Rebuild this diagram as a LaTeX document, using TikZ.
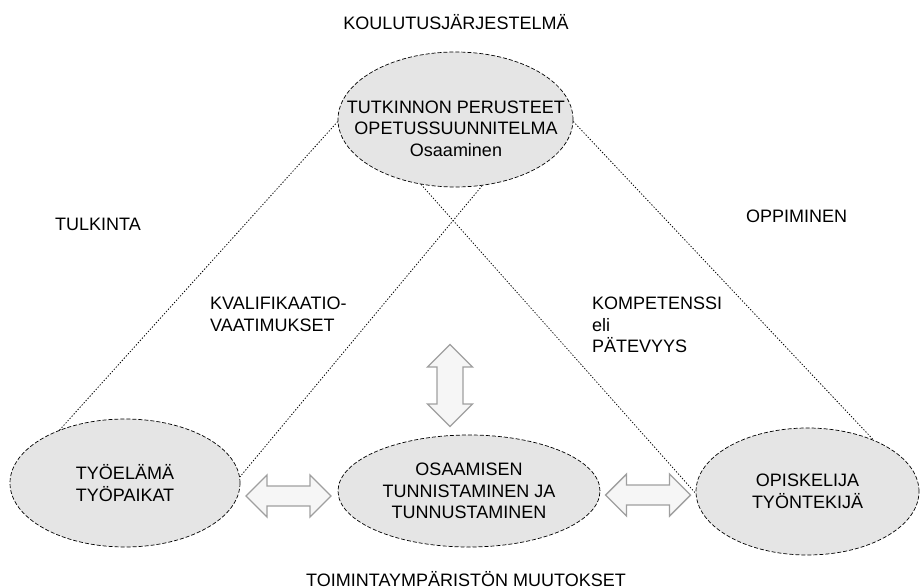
\documentclass[tikz,border=0pt]{standalone}
\usepackage{fontspec}
\setmainfont{Liberation Sans}
\usetikzlibrary{shapes.geometric,shapes.arrows}

\begin{document}
\begin{tikzpicture}[x=1pt,y=-1pt,font=\fontsize{18}{21.5}\selectfont,
    oval/.style={ellipse,draw,fill=gray!20,line width=.7pt,dash pattern=on 4pt off 2pt,inner sep=0},
    lbl/.style={inner sep=0},
    link/.style={line width=.8pt,dash pattern=on 1.3pt off 1.7pt},
    twoway/.style={double arrow,draw=gray!75,fill=gray!7,line width=1.4pt,
      inner xsep=0,inner ysep=9.3,double arrow head extend=11}]
  \useasboundingbox (0,0) rectangle (921,588);
  \node[oval,minimum width=235,minimum height=135] (ops) at (455.5,119.5) {};
  \node[lbl,align=center] (opsText) at (456,128.5)
    {TUTKINNON PERUSTEET\\OPETUSSUUNNITELMA\\Osaaminen};
  \node[oval,minimum width=230,minimum height=128,align=center] (tyo) at (125,483)
    {TYÖELÄMÄ\\TYÖPAIKAT};
  \node[oval,minimum width=262,minimum height=112,align=center] (osa) at (469,491)
    {OSAAMISEN\\TUNNISTAMINEN JA\\TUNNUSTAMINEN};
  \node[oval,minimum width=223,minimum height=127,align=center] (opi) at (807.5,491.5)
    {OPISKELIJA\\TYÖNTEKIJÄ};

  \draw[link] (ops.181) -- (tyo.141);
  \draw[link] (ops.-1) -- (opi.38);
  \draw[link] (ops.292) -- (tyo.3);
  \draw[link] (ops.242) -- (opi.181);

  \node[twoway,minimum height=85] (tyoOsa) at (288.5,496) {};
  \node[twoway,minimum height=85] (osaOpi) at (648,495) {};
  \node[twoway,minimum height=82,inner ysep=12.3,double arrow head extend=9.5,rotate=90]
    (opsOsa) at (450,385.5) {};

  \node[lbl,anchor=base] (kou) at (456,30) {KOULUTUSJÄRJESTELMÄ};
  \node[lbl,anchor=base] (tul) at (98,230) {TULKINTA};
  \node[lbl,anchor=base] (opp) at (796.5,223) {OPPIMINEN};
  \node[lbl,anchor=north west,align=left] (kva) at (210,297) {KVALIFIKAATIO-\\VAATIMUKSET};
  \node[lbl,anchor=north west,align=left] (kom) at (592,297) {KOMPETENSSI\\eli\\PÄTEVYYS};
  \node[lbl,anchor=base] (toi) at (466,586) {TOIMINTAYMPÄRISTÖN MUUTOKSET};
\end{tikzpicture}
\end{document}
